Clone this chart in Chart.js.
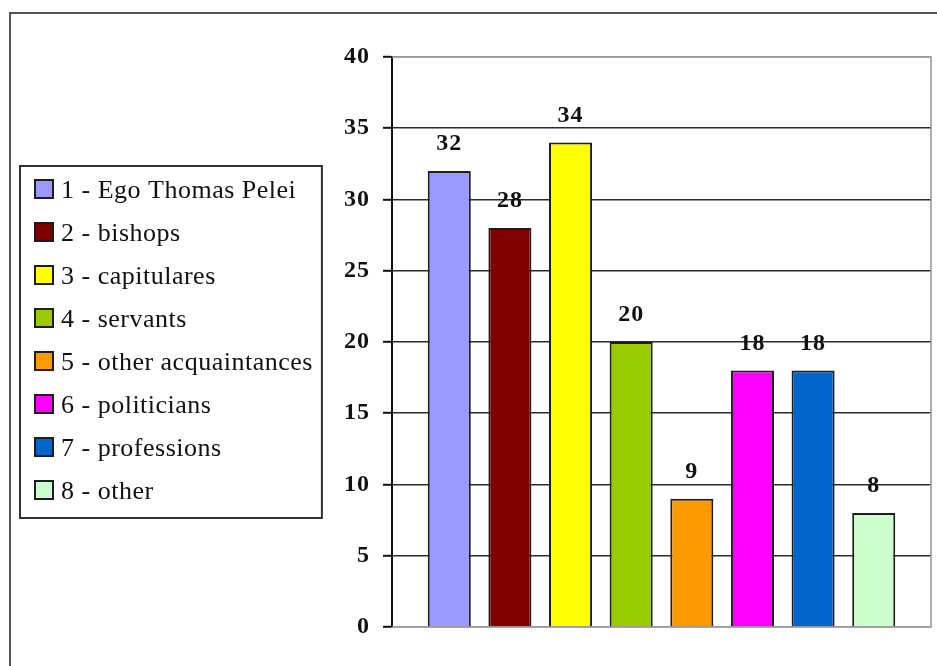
<!DOCTYPE html>
<html>
<head>
<meta charset="utf-8">
<title>Correspondents by group</title>
<script src="https://cdn.jsdelivr.net/npm/chart.js@4/dist/chart.umd.min.js"></script>
<style>
  html, body { margin: 0; padding: 0; background: #ffffff; }
  #wrap { width: 937px; height: 666px; position: relative; }
</style>
</head>
<body>
<div id="wrap"><canvas id="chart" width="937" height="666"></canvas></div>
<script>
// Correspondent groups and how many letters each accounts for
const categories = [
  '1 - Ego Thomas Pelei',
  '2 - bishops',
  '3 - capitulares',
  '4 - servants',
  '5 - other acquaintances',
  '6 - politicians',
  '7 - professions',
  '8 - other'
];
const counts = [32, 28, 34, 20, 9, 18, 18, 8];
const yTicks = [0, 5, 10, 15, 20, 25, 30, 35, 40];
const barColors = ['#9999ff', '#800000', '#ffff00', '#99cc00', '#ff9900', '#ff00ff', '#0066cc', '#ccffcc'];

const SERIF = '"Liberation Serif", "Times New Roman", serif';

// Frame round the whole figure and the grey plot border
const framePlugin = {
  id: 'frame',
  beforeDraw(chart) {
    const ctx = chart.ctx;
    ctx.save();
    ctx.fillStyle = '#ffffff';
    ctx.fillRect(0, 0, chart.width, chart.height);
    ctx.strokeStyle = '#555555';
    ctx.lineWidth = 2;
    ctx.strokeRect(10, 13, chart.width + 20, chart.height + 20);
    ctx.restore();
    // slightly wider spacing for the axis numbers
    ctx.letterSpacing = '1px';
  },
  beforeDatasetsDraw(chart) {
    const { ctx, chartArea: a } = chart;
    ctx.save();
    ctx.strokeStyle = '#9a9a9a';
    ctx.lineWidth = 1.6;
    ctx.beginPath();
    ctx.moveTo(a.left, a.top);
    ctx.lineTo(a.right, a.top);
    ctx.lineTo(a.right, a.bottom);
    ctx.lineTo(a.left, a.bottom);
    ctx.stroke();
    ctx.restore();
  },
  afterDraw(chart) {
    chart.ctx.letterSpacing = '0px';
  }
};

// Value printed above each bar
const valueLabels = {
  id: 'valueLabels',
  afterDatasetsDraw(chart) {
    const ctx = chart.ctx;
    ctx.save();
    ctx.letterSpacing = '1px';
    ctx.font = 'bold 24px ' + SERIF;
    ctx.fillStyle = '#111111';
    ctx.textAlign = 'center';
    ctx.textBaseline = 'alphabetic';
    chart.data.datasets.forEach((ds, i) => {
      const meta = chart.getDatasetMeta(i);
      meta.data.forEach((bar, j) => {
        ctx.fillText(String(ds.data[j]), bar.x, bar.y - 21);
      });
    });
    ctx.restore();
  }
};

// Boxed legend on the left, centred on the plot
const boxedLegend = {
  id: 'boxedLegend',
  afterDraw(chart) {
    const { ctx, chartArea: a } = chart;
    const left = 20, swatchX = 35, swatch = 18, textX = 61, rowGap = 43, padRight = 9;
    ctx.save();
    ctx.letterSpacing = '0.5px';
    ctx.font = '26px ' + SERIF;
    let maxW = 0;
    chart.data.datasets.forEach(ds => { maxW = Math.max(maxW, ctx.measureText(ds.label).width); });
    const n = chart.data.datasets.length;
    const cy = (a.top + a.bottom) / 2;
    const top = cy - 176, bottom = cy + 176;
    const right = textX + maxW + padRight;
    ctx.strokeStyle = '#333333';
    ctx.lineWidth = 2;
    ctx.strokeRect(left, top, right - left, bottom - top);
    const first = cy - 2.5 - rowGap * (n - 1) / 2;
    ctx.textBaseline = 'alphabetic';
    ctx.textAlign = 'left';
    chart.data.datasets.forEach((ds, i) => {
      const rc = first + i * rowGap;
      ctx.fillStyle = ds.backgroundColor;
      ctx.fillRect(swatchX, rc - swatch / 2, swatch, swatch);
      ctx.strokeStyle = '#1e1e1e';
      ctx.lineWidth = 2;
      ctx.strokeRect(swatchX, rc - swatch / 2, swatch, swatch);
      ctx.fillStyle = '#111111';
      ctx.fillText(ds.label, textX, rc + 9);
    });
    ctx.restore();
  }
};

const datasets = categories.map((name, i) => ({
  label: name,
  data: [counts[i]],
  backgroundColor: barColors[i],
  borderColor: '#1e1e1e',
  borderWidth: 2,
  categoryPercentage: 0.9,
  barPercentage: 0.71
}));

new Chart(document.getElementById('chart'), {
  type: 'bar',
  data: { labels: [''], datasets },
  plugins: [framePlugin, valueLabels, boxedLegend],
  options: {
    responsive: false,
    animation: false,
    layout: { padding: { left: 330, top: 57, right: 6, bottom: 39 } },
    plugins: { legend: { display: false }, tooltip: { enabled: false } },
    scales: {
      x: { display: false, offset: true },
      y: {
        min: 0,
        max: 40,
        afterBuildTicks(scale) { scale.ticks = yTicks.map(v => ({ value: v })); },
        afterFit(scale) { scale.width = 62; },
        ticks: {
          font: { family: SERIF, size: 24, weight: 'bold' },
          color: '#111111',
          padding: 13
        },
        grid: {
          color: c => (c.tick && (c.tick.value === 0 || c.tick.value === 40)) ? '#9a9a9a' : '#2b2b2b',
          lineWidth: 1.6,
          tickLength: 9,
          tickColor: '#111111',
          tickWidth: 2
        },
        border: { display: true, color: '#111111', width: 2 }
      }
    }
  }
});
</script>
</body>
</html>
